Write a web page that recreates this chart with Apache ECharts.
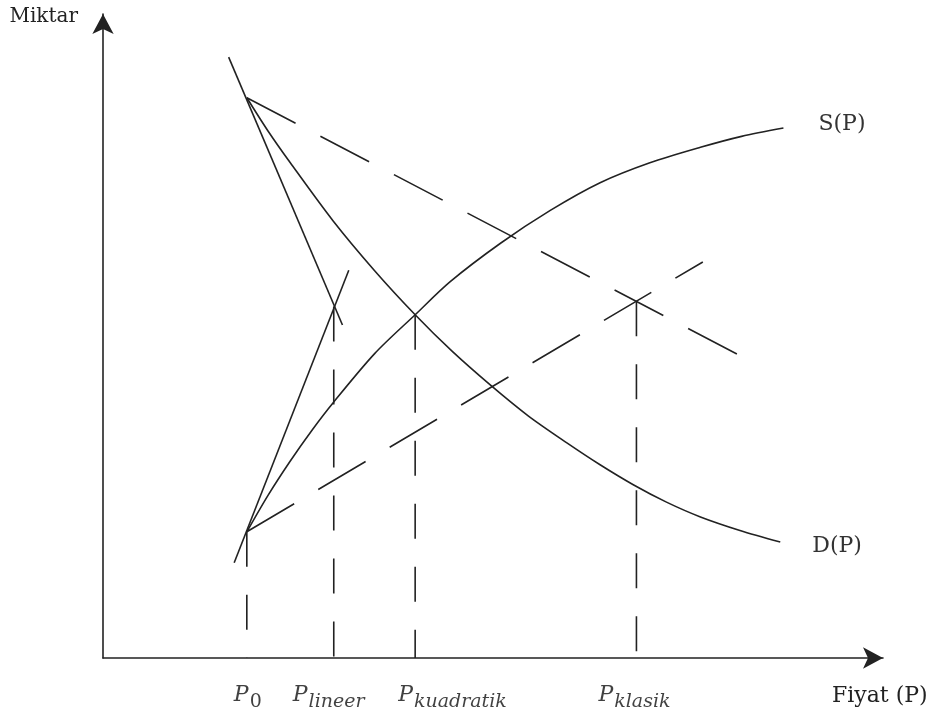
<!DOCTYPE html>
<html>
<head>
<meta charset="utf-8">
<script src="https://cdn.jsdelivr.net/npm/echarts@6/dist/echarts.min.js"></script>
<style>
html,body{margin:0;padding:0;background:#fff;}
#chart{width:939px;height:725px;}
</style>
</head>
<body>
<div id="chart"></div>
<script>
// ---- data (diagram units: x = price, y = quantity) ----
const demandCurve = [[18.2,87.0],[20.9,81.8],[23.7,76.9],[29.1,67.9],[34.4,60.1],[39.5,53.3],[44.2,47.6],[49.0,42.4],[53.8,37.6],[58.7,33.4],[62.9,30.0],[67.1,26.9],[71.3,24.2],[75.6,21.9],[80.6,19.8],[85.7,18.0]];
const supplyCurve = [[18.2,19.6],[20.9,25.3],[23.7,30.6],[26.4,35.3],[29.1,39.6],[34.4,47.3],[39.5,53.3],[43.9,58.4],[50.3,64.4],[56.6,69.5],[62.9,73.8],[69.2,76.9],[75.6,79.3],[80.8,81.0],[86.1,82.3]];
const linearDemand = [[15.9,93.3],[30.3,51.7]];
const linearSupply = [[16.6,14.8],[31.1,60.2]];
const classicDemand = [[18.2,87.0],[81.0,46.7]];
const classicSupply = [[18.2,19.6],[75.9,61.5]];
const priceMarks = [18.2, 29.2, 39.5, 67.5];
const markHeights = [19.6, 54.6, 53.3, 55.4];
const priceSubs = ['0', 'lineer', 'kuadratik', 'klasik'];
const curveNames = ['D(P)', 'S(P)'];
const axisNames = ['Fiyat (P)', 'Miktar'];

const INK = '#222';
const solid = (data, extra) => Object.assign({
  type: 'line', data: data, symbol: 'none', silent: true, animation: false,
  lineStyle: {color: INK, width: 1.6}
}, extra || {});

const series = [];
series.push(solid(demandCurve, {smooth: 0.3,
  endLabel: {show: true, formatter: curveNames[0], fontFamily: 'DejaVu Serif', fontSize: 22, color: '#333', distance: 32, offset: [0, 4]}}));
series.push(solid(supplyCurve, {smooth: 0.3,
  endLabel: {show: true, formatter: curveNames[1], fontFamily: 'DejaVu Serif', fontSize: 22, color: '#333', distance: 35, offset: [0, -4]}}));
series.push(solid(linearDemand));
series.push(solid(linearSupply));
series.push(solid(classicDemand, {lineStyle: {color: INK, width: 1.6, type: [55, 28]}}));
series.push(solid(classicSupply, {lineStyle: {color: INK, width: 1.6, type: [55, 28]}}));
priceMarks.forEach((p, i) => {
  series.push(solid([[p, markHeights[i]], [p, 0]], {lineStyle: {color: INK, width: 1.6, type: [35, 28]}}));
});
const labelOffsets = [[-13, 0], [-41, 0], [-17, 0], [-38, 0]];
series.push({
  type: 'scatter', silent: true, animation: false, symbolSize: 1,
  itemStyle: {color: 'rgba(0,0,0,0)'},
  data: priceMarks.map((p, i) => ({
    value: [p, 0],
    label: {
      show: true, position: 'bottom', distance: 20, align: 'left', offset: labelOffsets[i],
      formatter: '{p|P}{s|' + priceSubs[i] + '}',
      rich: {
        p: {fontFamily: 'DejaVu Serif', fontStyle: 'italic', fontSize: 22, color: '#111'},
        s: {fontFamily: 'DejaVu Serif', fontStyle: i === 0 ? 'normal' : 'italic', fontSize: 19, color: '#111', padding: [14, 0, 0, 1]}
      }
    }
  }))
});

const axisLine = {show: true, symbol: ['none', 'arrow'], symbolSize: [16, 20], lineStyle: {color: INK, width: 1.6}};
const option = {
  backgroundColor: '#fff',
  grid: {left: 103, right: 56, top: 14, bottom: 67},
  xAxis: {type: 'value', min: 0, max: 98.7, axisLine: axisLine, axisTick: {show: false}, axisLabel: {show: false}, splitLine: {show: false},
    name: axisNames[0], nameLocation: 'end', nameGap: -51,
    nameTextStyle: {fontFamily: 'DejaVu Serif', fontSize: 22, color: '#222', align: 'left', verticalAlign: 'top', padding: [27, 0, 0, 0]}},
  yAxis: {type: 'value', min: 0, max: 100, axisLine: axisLine, axisTick: {show: false}, axisLabel: {show: false}, splitLine: {show: false},
    name: axisNames[1], nameLocation: 'end', nameGap: -3,
    nameTextStyle: {fontFamily: 'DejaVu Serif', fontSize: 20, color: '#222', align: 'right', verticalAlign: 'middle', padding: [0, 25, 0, 0]}},
  series: series
};
const chart = echarts.init(document.getElementById('chart'), null, {renderer: 'canvas'});
chart.setOption(option);
</script>
</body>
</html>
